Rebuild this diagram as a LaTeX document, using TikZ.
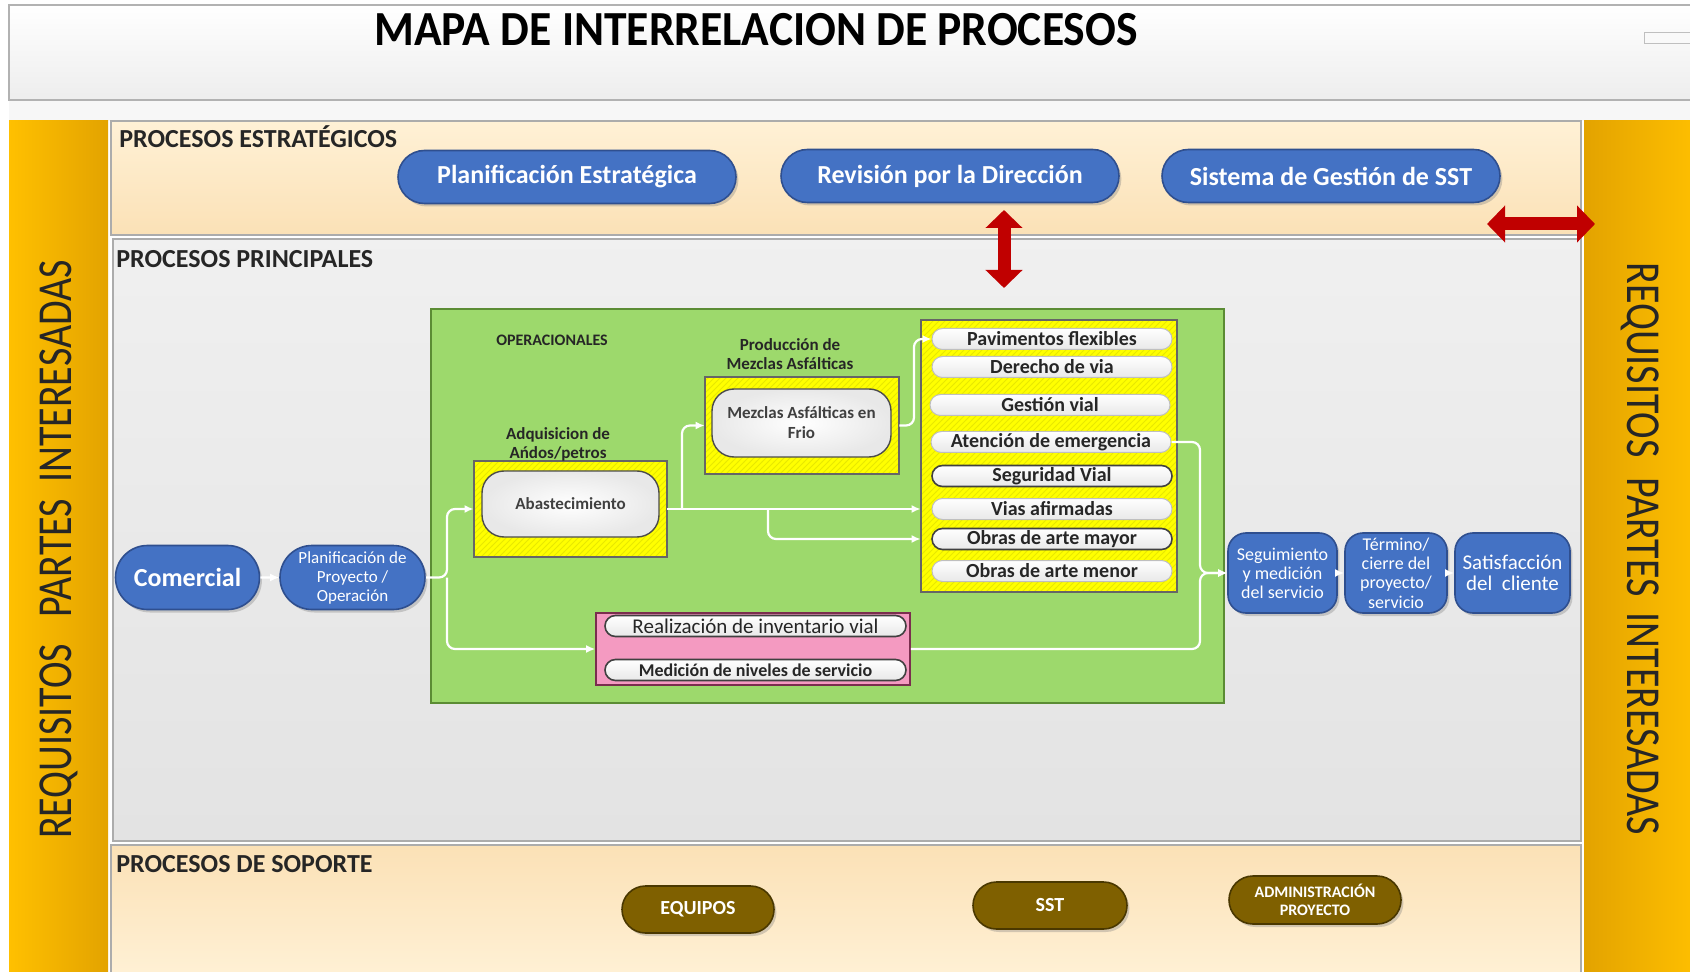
\documentclass[tikz,border=0pt]{standalone}
\usepackage{fontspec}
\setmainfont{Carlito}
\usetikzlibrary{positioning,shapes.misc,arrows.meta,shadows,patterns}

\definecolor{procblue}{HTML}{4472C4}
\definecolor{procblueline}{HTML}{2F4F8F}
\definecolor{opgreen}{HTML}{9DD96C}
\definecolor{opgreenline}{HTML}{5B8C34}
\definecolor{boxyellow}{HTML}{FFFF00}
\definecolor{hatchyellow}{HTML}{E8E800}
\definecolor{boxpink}{HTML}{F49AC1}
\definecolor{pinkline}{HTML}{7A2E4E}
\definecolor{soilbrown}{HTML}{7F6000}
\definecolor{soilline}{HTML}{4A3800}
\definecolor{goldA}{HTML}{FFC000}
\definecolor{goldB}{HTML}{E3A300}
\definecolor{peachA}{HTML}{FFF1D6}
\definecolor{peachB}{HTML}{FBE1B6}
\definecolor{redarr}{HTML}{C00000}
\definecolor{textdark}{HTML}{262626}

\begin{document}
\begin{tikzpicture}[x=0.5pt, y=-0.5pt, >=Latex,
    band/.style={rectangle, draw=gray!65, line width=0.6pt, inner sep=0pt},
    column/.style={rectangle, minimum width=49.5pt, minimum height=429.5pt, inner sep=0pt},
    bandlabel/.style={anchor=west, inner sep=0pt, font=\fontsize{13}{14}\selectfont\bfseries, text=textdark},
    sidetext/.style={inner sep=0pt, font=\fontsize{20}{22}\selectfont, text=textdark},
    bluepill/.style={rounded rectangle, draw=procblueline, line width=0.8pt, fill=procblue, text=white, align=center, inner sep=0pt,
        drop shadow={shadow xshift=1.2pt, shadow yshift=-1.5pt, opacity=0.35}},
    stratpill/.style={bluepill, minimum width=169pt, minimum height=26.5pt, font=\fontsize{13}{15}\selectfont\bfseries},
    bluebox/.style={rectangle, rounded corners=9pt, draw=procblueline, line width=0.8pt, fill=procblue, text=white, align=center, inner sep=0pt,
        minimum height=40pt, drop shadow={shadow xshift=1.2pt, shadow yshift=-1.5pt, opacity=0.35}},
    soilpill/.style={rounded rectangle, draw=soilline, line width=0.8pt, fill=soilbrown, text=white, align=center, inner sep=0pt,
        drop shadow={shadow xshift=1.2pt, shadow yshift=-1.5pt, opacity=0.35}},
    yellowbox/.style={rectangle, fill=boxyellow, inner sep=0pt,
        postaction={pattern=north east lines, pattern color=hatchyellow},
        postaction={draw=black!60, line width=0.7pt}},
    whitebox/.style={rectangle, rounded corners=11pt, draw=black!70, line width=0.7pt, inner color=white, outer color=gray!18,
        align=center, inner sep=0pt, font=\fontsize{8.5}{10}\selectfont\bfseries, text=black!75},
    smalllabel/.style={inner sep=0pt, align=center, font=\fontsize{8.5}{9.5}\selectfont\bfseries, text=textdark},
    itempill/.style={rounded rectangle, draw=gray!50, line width=0.5pt, top color=white, bottom color=gray!18,
        minimum width=120pt, minimum height=10.5pt, inner sep=0pt, font=\fontsize{10}{11}\selectfont\bfseries, text=textdark},
    itemdark/.style={itempill, draw=black!75, line width=0.8pt},
    flow/.style={draw=white, line width=1.1pt, rounded corners=4pt, -{Latex[length=4.5pt,width=4pt]}},
    redarrow/.style={draw=redarr, line width=6.5pt, {Triangle[width=18pt,length=9pt]}-{Triangle[width=18pt,length=9pt]}}]

    \useasboundingbox (0,0) rectangle (1690,972);

    % header
    \fill [gray!6] (9,100) rectangle (1700,121);
    \node [rectangle, draw=gray!60, line width=0.8pt, top color=white, bottom color=gray!14, minimum width=845.5pt, minimum height=47.5pt, inner sep=0pt] at (854.5,52.5) (header) {};
    \node [font=\fontsize{24.5}{26}\selectfont\bfseries, inner sep=0pt] at (756,30) (title) {\scalebox{0.93}[1]{MAPA DE INTERRELACION DE PROCESOS}};
    \node [rectangle, draw=gray!50, fill=gray!5, minimum width=30pt, minimum height=5.5pt, inner sep=0pt] at (1674,37.5) (tag) {};

    % side columns
    \node [column, left color=goldA, right color=goldB] at (58.5,550.5) (leftcol) {};
    \node [column, minimum width=58pt, left color=goldB, right color=goldA] at (1642,550.5) (rightcol) {};
    \node [sidetext, rotate=90] at (59,549.5) (reqleft) {\scalebox{1}[1.22]{REQUISITOS\hspace{13pt}PARTES\hspace{8pt}INTERESADAS}};
    \node [sidetext, rotate=-90] at (1640,549) (reqright) {\scalebox{1}[1.22]{REQUISITOS\hspace{10pt}PARTES\hspace{8pt}INTERESADAS}};

    % bands
    \node [band, top color=peachA, bottom color=peachB, minimum width=735pt, minimum height=57pt] at (846,178) (strat) {};
    \node [band, top color=gray!12, bottom color=gray!22, minimum width=734pt, minimum height=301pt] at (847,540) (princ) {};
    \node [band, top color=peachB, bottom color=peachA, minimum width=735pt, minimum height=67.5pt] at (846,912.5) (sop) {};
    \node [bandlabel] at (119,137) (lblstrat) {PROCESOS ESTRATÉGICOS};
    \node [bandlabel] at (116,259) (lblprinc) {PROCESOS PRINCIPALES};
    \node [bandlabel] at (116,864) (lblsop) {PROCESOS DE SOPORTE};

    % strategic
    \node [stratpill] at (567,177) (planest) {Planificación Estratégica};
    \node [stratpill] at (950,176) (revdir) {Revisión por la Dirección};
    \node [stratpill] at (1331,176) (gestsst) {Sistema de Gestión de SST};

    \coordinate (vtop) at (1004,210);
    \coordinate (vbot) at (1004,288);
    \coordinate (hleft) at (1487,224);
    \coordinate (hright) at (1595,224);
    \draw [redarrow] (vtop) -- (vbot);
    \draw [redarrow] (hleft) -- (hright);

    % operational
    \node [rectangle, draw=opgreenline, line width=0.8pt, fill=opgreen, minimum width=396.5pt, minimum height=197pt, inner sep=0pt] at (827.5,506) (ops) {};
    \node [smalllabel, font=\fontsize{8}{9}\selectfont\bfseries] at (552,340) (lblops) {OPERACIONALES};

    \node [yellowbox, minimum width=96.5pt, minimum height=48pt] at (570.5,509) (abastY) {};
    \node [whitebox, minimum width=88.5pt, minimum height=33pt] at (570.5,504) (abast) {Abastecimiento};
    \node [smalllabel] at (558,444.5) (lblabast) {Adquisicion de\\Ańdos/petros};

    \node [yellowbox, minimum width=97pt, minimum height=48.5pt] at (802,425.5) (mezY) {};
    \node [whitebox, minimum width=89.5pt, minimum height=34pt] at (801.5,423) (mez) {Mezclas Asfálticas en\\Frio};
    \node [smalllabel] at (790,354) (lblmez) {Producción de\\Mezclas Asfálticas};

    \node [yellowbox, minimum width=128pt, minimum height=136pt] at (1049,456) (listY) {};
    \node [itempill] at (1052,339) (pav) {Pavimentos flexibles};
    \node [itempill] at (1052,367) (der) {Derecho de via};
    \node [itempill] at (1050,405) (gest) {Gestión vial};
    \node [itempill] at (1051,442) (aten) {Atención de emergencia};
    \node [itemdark] at (1052,476) (segvial) {Seguridad Vial};
    \node [itempill] at (1052,509) (vias) {Vias afirmadas};
    \node [itemdark] at (1052,539) (mayor) {Obras de arte mayor};
    \node [itempill] at (1052,571) (menor) {Obras de arte menor};

    \node [rectangle, draw=pinkline, line width=0.8pt, fill=boxpink, minimum width=157pt, minimum height=36pt, inner sep=0pt] at (753,649) (pink) {};
    \node [itemdark, minimum width=150.5pt, font=\fontsize{10.5}{11}\selectfont] at (755.5,626) (inv) {Realización de inventario vial};
    \node [itemdark, minimum width=150.5pt, font=\fontsize{9}{10}\selectfont\bfseries] at (755.5,670) (niv) {Medición de niveles de servicio};

    % main flow
    \node [bluepill, minimum width=72pt, minimum height=32pt, font=\fontsize{13}{15}\selectfont\bfseries] at (187.5,577.5) (com) {Comercial};
    \node [bluepill, minimum width=72.5pt, minimum height=32pt, font=\fontsize{8.5}{9.5}\selectfont] at (352.5,577.5) (pp) {Planificación de\\Proyecto /\\Operación};
    \node [bluebox, minimum width=54.5pt, font=\fontsize{9}{9.5}\selectfont] at (1282.5,573) (segui) {Seguimiento\\y medición\\del servicio};
    \node [bluebox, minimum width=51pt, font=\fontsize{9}{9.7}\selectfont] at (1396,573) (term) {Término/\\cierre del\\proyecto/\\servicio};
    \node [bluebox, minimum width=57.5pt, font=\fontsize{10.5}{10.8}\selectfont] at (1512.5,573) (satis) {Satisfacción\\del~~cliente};

    \coordinate (split) at (447,577.5);
    \coordinate (upmez) at (682,509);
    \coordinate (downmay) at (768,509);
    \coordinate (riserpav) at (914,425.5);
    \coordinate (merge) at (1200,573);

    \draw [flow] (com) -- (pp);
    \draw [flow] (pp.east) -- (split) |- (abastY.west);
    \draw [flow] (split) |- (pink.west);
    \draw [flow] (abastY.east) -- (abastY.east -| listY.west);
    \draw [flow] (upmez) |- (mezY.west);
    \draw [flow] (downmay) |- (listY.west |- mayor);
    \draw [flow] (mezY.east) -- (riserpav) |- (pav.west);
    \draw [flow] (aten.east) -| (merge) -- (segui.west);
    \draw [flow] (pink.east) -| (merge) -- (segui.west);
    \draw [flow] (segui) -- (term);
    \draw [flow] (term) -- (satis);

    % support
    \node [soilpill, minimum width=76pt, minimum height=23.5pt, font=\fontsize{10}{11}\selectfont\bfseries] at (698,909.5) (equipos) {EQUIPOS};
    \node [soilpill, minimum width=77pt, minimum height=23.5pt, font=\fontsize{10}{11}\selectfont\bfseries] at (1050,905.5) (sst) {SST};
    \node [soilpill, minimum width=86pt, minimum height=24pt, font=\fontsize{8}{9}\selectfont\bfseries] at (1315,900) (admin) {ADMINISTRACIÓN\\PROYECTO};
\end{tikzpicture}
\end{document}
